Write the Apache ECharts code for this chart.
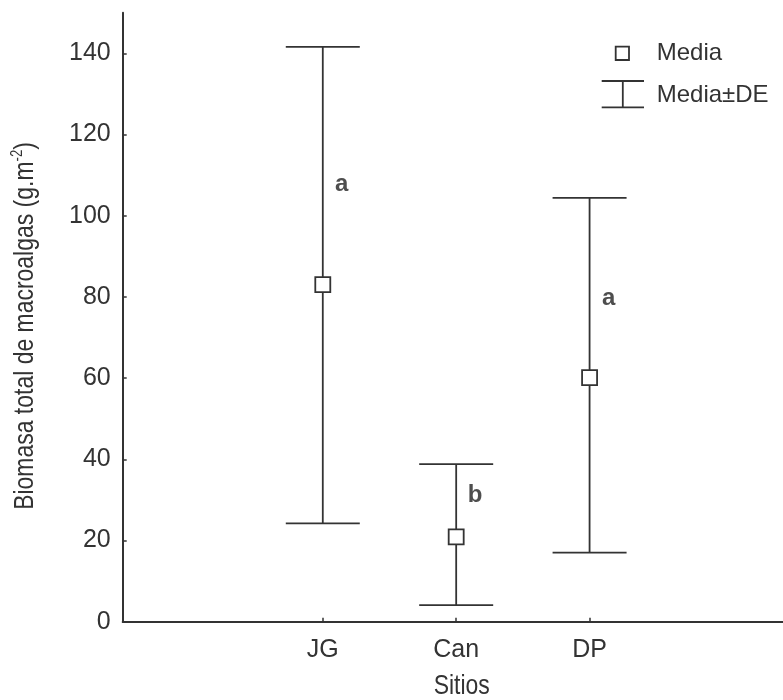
<!DOCTYPE html>
<html>
<head>
<meta charset="utf-8">
<script src="https://cdn.jsdelivr.net/npm/echarts@6/dist/echarts.min.js"></script>
<style>html,body{margin:0;padding:0;background:#fff}#c{width:783px;height:700px}</style>
</head>
<body>
<div id="c"></div>
<script>
var categories = ['JG', 'Can', 'DP'];
var positions = [1, 2, 3];
var means = [83.0, 20.9, 60.1];
var upper = [141.6, 38.8, 104.4];
var lower = [24.2, 4.1, 17.0];
var letters = ['a', 'b', 'a'];
var letterY = [107.6, 31.2, 79.7];
var yTicks = [0, 20, 40, 60, 80, 100, 120, 140];

var ink = '#333333';
var chart = echarts.init(document.getElementById('c'), null, {renderer: 'canvas'});

var barData = positions.map(function (p, i) { return [p, lower[i], upper[i]]; });
var meanData = positions.map(function (p, i) { return [p, means[i]]; });
var letterData = positions.map(function (p, i) { return [p, letterY[i], letters[i]]; });

var option = {
  animation: false,
  backgroundColor: '#ffffff',
  grid: {left: 122.7, right: 0, top: 12.7, bottom: 78.3, containLabel: false},
  xAxis: {
    type: 'value', min: -0.5, max: 4.45,
    splitLine: {show: false},
    axisLine: {show: true, onZero: false, lineStyle: {color: ink, width: 2}},
    axisTick: {show: true, inside: true, length: 4, customValues: positions, lineStyle: {color: ink, width: 1.5}},
    axisLabel: {
      customValues: positions, margin: 16, color: ink, fontSize: 25, fontFamily: 'Liberation Sans',
      formatter: function (v) { var i = positions.indexOf(v); return i >= 0 ? categories[i] : ''; }
    }
  },
  yAxis: {
    type: 'value', min: 0, max: 150,
    splitLine: {show: false},
    axisLine: {show: true, onZero: false, lineStyle: {color: ink, width: 2}},
    axisTick: {show: true, inside: true, length: 4, customValues: yTicks, lineStyle: {color: ink, width: 1.5}},
    axisLabel: {customValues: yTicks, margin: 12, color: ink, fontSize: 25, fontFamily: 'Liberation Sans', padding: [4, 0, 0, 0]}
  },
  series: [
    {
      name: 'Media±DE', type: 'custom', data: barData, z: 2,
      renderItem: function (params, api) {
        var x = api.value(0);
        var lo = api.coord([x, api.value(1)]);
        var hi = api.coord([x, api.value(2)]);
        var hw = 37;
        var st = {stroke: ink, lineWidth: 1.8};
        return {type: 'group', children: [
          {type: 'line', shape: {x1: lo[0], y1: lo[1], x2: hi[0], y2: hi[1]}, style: st},
          {type: 'line', shape: {x1: hi[0] - hw, y1: hi[1], x2: hi[0] + hw, y2: hi[1]}, style: st},
          {type: 'line', shape: {x1: lo[0] - hw, y1: lo[1], x2: lo[0] + hw, y2: lo[1]}, style: st}
        ]};
      }
    },
    {
      name: 'Media', type: 'scatter', data: meanData, z: 5,
      symbol: 'rect', symbolSize: 15,
      itemStyle: {color: '#ffffff', borderColor: ink, borderWidth: 1.8, opacity: 1}
    },
    {
      name: 'letras', type: 'scatter', data: letterData, z: 6,
      symbolSize: 1, itemStyle: {color: 'rgba(0,0,0,0)'},
      label: {
        show: true, position: 'inside', offset: [19, 0],
        formatter: function (p) { return p.data[2]; },
        color: '#222222', fontSize: 24, fontWeight: 'bold', fontFamily: 'Liberation Sans'
      }
    }
  ],
  graphic: [
    {
      type: 'text', x: 25, y: 326, rotation: Math.PI / 2, scaleX: 0.82,
      style: {
        text: '{n|Biomasa total de macroalgas (g.m}{s|-2}{n|)}',
        align: 'center', verticalAlign: 'middle',
        rich: {
          n: {fontSize: 28, fontFamily: 'Liberation Sans', fill: ink, color: ink, lineHeight: 30},
          s: {fontSize: 16, fontFamily: 'Liberation Sans', fill: ink, color: ink, verticalAlign: 'top', lineHeight: 30}
        }
      }
    },
    {
      type: 'text', x: 461.7, y: 686, scaleX: 0.82,
      style: {text: 'Sitios', align: 'center', verticalAlign: 'middle', fontSize: 28, fontFamily: 'Liberation Sans', fill: ink}
    },
    {
      type: 'rect', shape: {x: 615.7, y: 46.7, width: 13.3, height: 13.3},
      style: {fill: '#ffffff', stroke: ink, lineWidth: 1.8}
    },
    {
      type: 'text', x: 656.7, y: 53.3,
      style: {text: 'Media', align: 'left', verticalAlign: 'middle', fontSize: 24, fontFamily: 'Liberation Sans', fill: ink}
    },
    {type: 'line', shape: {x1: 601.7, y1: 81, x2: 644, y2: 81}, style: {stroke: ink, lineWidth: 1.8}},
    {type: 'line', shape: {x1: 622.8, y1: 81, x2: 622.8, y2: 107.3}, style: {stroke: ink, lineWidth: 1.8}},
    {type: 'line', shape: {x1: 601.7, y1: 107.3, x2: 644, y2: 107.3}, style: {stroke: ink, lineWidth: 1.8}},
    {
      type: 'text', x: 656.7, y: 95,
      style: {text: 'Media±DE', align: 'left', verticalAlign: 'middle', fontSize: 24, fontFamily: 'Liberation Sans', fill: ink}
    }
  ]
};
chart.setOption(option);
</script>
</body>
</html>
